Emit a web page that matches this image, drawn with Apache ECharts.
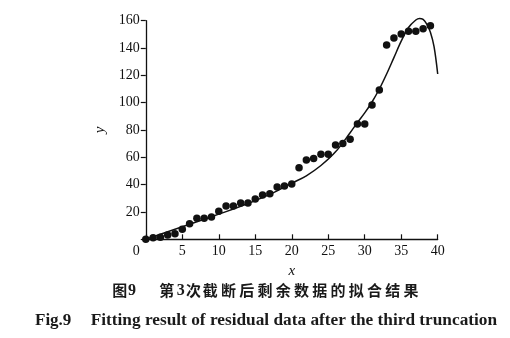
<!DOCTYPE html>
<html><head><meta charset="utf-8">
<script src="https://cdn.jsdelivr.net/npm/echarts@6/dist/echarts.min.js"></script>
<style>html,body{margin:0;padding:0;background:#fff}#c{width:510px;height:338px}</style>
</head><body><div id="c"></div>
<script>
// ---- data ----
const xTickMin = 0, xTickMax = 40, xTickStep = 5;
const yTickMin = 0, yTickMax = 160, yTickStep = 20;
const dataX = [0,1,2,3,4,5,6,7,8,9,10,11,12,13,14,15,16,17,18,19,20,21,22,23,24,25,26,27,28,29,30,31,32,33,34,35,36,37,38,39];
const dataY = [0,1.2,1.5,3.2,4.1,7.3,11.4,15.4,15.4,16.3,20.5,24.4,24.4,26.6,26.6,29.5,32.4,33.4,38.2,39.1,40.5,52.4,58.0,59.2,62.3,62.3,69.1,70.2,73.3,84.4,84.4,98.3,109.3,142.2,147.3,150.2,152.2,152.2,154.1,156.3];
const fitX = [0,2,4,6,8,10,12,14,16,18,20,22,24,26,28,29,30,31,32,33,34,35,36,37,37.5,38,38.5,39,39.5,40];
const fitY = [0,3.7,7.4,11,14.7,18.4,22.2,26.2,30.5,35.5,41,46.5,54,64,78,85.5,92.5,100.5,110,121,133,145,155,160.5,161.7,161,157.5,151.5,141,121];
const xName = 'x', yName = 'y';
const captionCN = ['图','9','第','3','次','截','断','后','剩','余','数','据','的','拟','合','结','果'];
const captionFig = 'Fig.9';
const captionEN = 'Fitting result of residual data after the third truncation';

// ---- build ----
const serif = 'Liberation Serif';
const scatterData = dataX.map((x, i) => [x, dataY[i]]);
const fitData = fitX.map((x, i) => [x, fitY[i]]);

// caption character layout
const cnLeft = [112.3, 128, 159.3, 176.7, 186];
for (let i = 5; i < captionCN.length; i++) cnLeft.push(202.7 + (i - 5) * 18.25);
const cnGraphics = captionCN.map((ch, i) => {
  const isDigit = /[0-9]/.test(ch);
  return {
    type: 'text', left: cnLeft[i], top: 283,
    style: {
      text: ch, fill: '#1a1a1a',
      font: isDigit ? 'bold 16px "Liberation Serif"' : 'bold 15px "Noto Sans CJK SC"'
    }
  };
});

const chart = echarts.init(document.getElementById('c'), null, {renderer: 'canvas'});
chart.setOption({
  animation: false,
  backgroundColor: '#fff',
  grid: {left: 145.8, right: 72.3, top: 20.7, bottom: 98.7, containLabel: false},
  xAxis: {
    type: 'value', min: xTickMin, max: xTickMax, interval: xTickStep,
    name: xName, nameLocation: 'middle', nameGap: 16,
    nameTextStyle: {fontFamily: serif, fontStyle: 'italic', fontSize: 15, color: '#111'},
    axisLine: {show: true, lineStyle: {color: '#111', width: 1.3}},
    axisTick: {show: true, inside: true, length: 5, lineStyle: {color: '#111', width: 1.2}},
    axisLabel: {
      margin: 5, fontFamily: serif, fontSize: 14, color: '#111',
      formatter: v => v === 0 ? '{z|0}' : String(v),
      rich: {z: {fontFamily: serif, fontSize: 14, color: '#111', padding: [0, 19, 0, 0]}}
    },
    splitLine: {show: false}
  },
  yAxis: {
    type: 'value', min: yTickMin, max: yTickMax, interval: yTickStep,
    name: yName, nameLocation: 'middle', nameGap: 33, nameRotate: 90,
    nameTextStyle: {fontFamily: serif, fontStyle: 'italic', fontSize: 15, color: '#111'},
    axisLine: {show: true, lineStyle: {color: '#111', width: 1.3}},
    axisTick: {show: true, inside: false, length: 5, lineStyle: {color: '#111', width: 1.2}},
    axisLabel: {
      margin: 6, fontFamily: serif, fontSize: 14, color: '#111',
      formatter: v => v === 0 ? '' : String(v)
    },
    splitLine: {show: false}
  },
  series: [
    {
      type: 'line', data: fitData, smooth: 0.35, symbol: 'none', clip: false,
      lineStyle: {color: '#111', width: 1.5}, z: 2
    },
    {
      type: 'scatter', data: scatterData, symbol: 'circle', symbolSize: 7.5, clip: false,
      itemStyle: {color: '#111', opacity: 1}, z: 3
    }
  ],
  graphic: cnGraphics.concat([
    {type: 'text', left: 35, top: 312, style: {text: captionFig, fill: '#1a1a1a', font: 'bold 17px "Liberation Serif"'}},
    {type: 'text', left: 90.7, top: 312, style: {text: captionEN, fill: '#1a1a1a', font: 'bold 17.3px "Liberation Serif"'}}
  ])
});
</script>
</body></html>
